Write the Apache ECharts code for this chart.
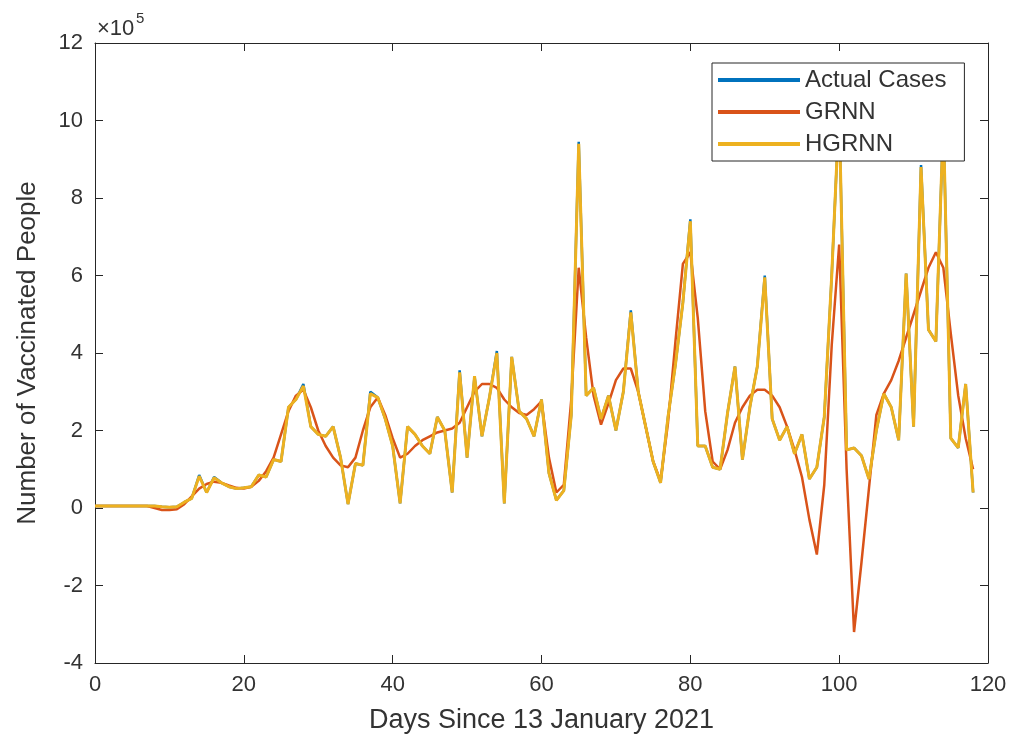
<!DOCTYPE html>
<html>
<head>
<meta charset="utf-8">
<script src="https://cdn.jsdelivr.net/npm/echarts@6/dist/echarts.min.js"></script>
<style>
  html, body { margin: 0; padding: 0; background: #ffffff; }
  #chart { width: 1010px; height: 743px; }
</style>
</head>
<body>
<div id="chart"></div>
<script>
// Daily vaccinations, in units of 10^5 people, day 0 = 13 January 2021
const actualCases = [
  0.05, 0.05, 0.05, 0.05, 0.05, 0.05, 0.05, 0.05, 0.05, 0.03,
  0.02, 0.03, 0.15, 0.25, 0.85, 0.4, 0.8, 0.65, 0.55, 0.5,
  0.52, 0.55, 0.85, 0.8, 1.25, 1.2, 2.6, 2.8, 3.2, 2.1,
  1.9, 1.85, 2.1, 1.3, 0.1, 1.15, 1.1, 3.0, 2.85, 2.3,
  1.6, 0.12, 2.1, 1.9, 1.6, 1.4, 2.35, 2.0, 0.4, 3.55,
  1.3, 3.4, 1.85, 2.85, 4.05, 0.12, 3.9, 2.5, 2.3, 1.85,
  2.8, 0.9, 0.2, 0.45, 2.4, 9.45, 2.9, 3.1, 2.3, 2.9,
  2.0, 3.0, 5.1, 3.0, 2.1, 1.2, 0.65, 2.35, 3.7, 5.3,
  7.45, 1.6, 1.6, 1.05, 1.0, 2.45, 3.65, 1.25, 2.6, 3.65,
  6.0, 2.3, 1.75, 2.1, 1.4, 1.9, 0.75, 1.05, 2.35, 6.0,
  10.3, 1.5, 1.55, 1.35, 0.75, 2.0, 2.95, 2.6, 1.75, 6.05,
  2.1, 8.85, 4.6, 4.3, 10.0, 1.8, 1.55, 3.2, 0.4
];

const grnn = [
  0.05, 0.05, 0.05, 0.05, 0.05, 0.05, 0.05, 0.05, 0.0, -0.05,
  -0.05, -0.03, 0.1, 0.3, 0.5, 0.62, 0.68, 0.65, 0.58, 0.52,
  0.5, 0.55, 0.7, 0.95, 1.3, 1.9, 2.5, 2.9, 3.05, 2.6,
  2.0, 1.6, 1.3, 1.1, 1.05, 1.3, 2.0, 2.6, 2.85, 2.4,
  1.8, 1.3, 1.4, 1.6, 1.75, 1.85, 1.95, 2.0, 2.05, 2.2,
  2.6, 3.0, 3.2, 3.2, 3.1, 2.8, 2.6, 2.45, 2.4, 2.55,
  2.75, 1.3, 0.4, 0.6, 2.8, 6.2, 4.4, 2.9, 2.15, 2.7,
  3.3, 3.6, 3.6, 3.0, 2.1, 1.2, 0.7, 2.2, 4.3, 6.3,
  6.6, 4.9, 2.5, 1.2, 1.0, 1.5, 2.2, 2.6, 2.9, 3.05,
  3.05, 2.9, 2.6, 2.1, 1.5, 0.8, -0.3, -1.2, 0.6, 4.2,
  6.8, 1.0, -3.2, -1.4, 0.5, 2.4, 2.95, 3.3, 3.8, 4.4,
  5.0, 5.6, 6.2, 6.6, 6.2, 4.5, 2.9, 1.8, 1.0
];

const hgrnn = [
  0.05, 0.05, 0.05, 0.05, 0.05, 0.05, 0.05, 0.05, 0.05, 0.03,
  0.02, 0.03, 0.15, 0.25, 0.82, 0.4, 0.78, 0.65, 0.55, 0.5,
  0.52, 0.55, 0.85, 0.8, 1.25, 1.2, 2.6, 2.8, 3.15, 2.1,
  1.9, 1.85, 2.1, 1.3, 0.1, 1.15, 1.1, 2.95, 2.85, 2.3,
  1.6, 0.12, 2.1, 1.9, 1.6, 1.4, 2.35, 2.0, 0.4, 3.5,
  1.3, 3.4, 1.85, 2.85, 4.0, 0.12, 3.9, 2.5, 2.3, 1.85,
  2.8, 0.9, 0.2, 0.45, 2.4, 9.4, 2.9, 3.1, 2.3, 2.9,
  2.0, 3.0, 5.05, 3.0, 2.1, 1.2, 0.65, 2.35, 3.7, 5.3,
  7.4, 1.6, 1.6, 1.05, 1.0, 2.45, 3.65, 1.25, 2.6, 3.65,
  5.95, 2.3, 1.75, 2.1, 1.4, 1.9, 0.75, 1.05, 2.35, 6.0,
  10.3, 1.5, 1.55, 1.35, 0.75, 2.0, 2.95, 2.6, 1.75, 6.05,
  2.1, 8.8, 4.6, 4.3, 10.0, 1.8, 1.55, 3.2, 0.4
];

const seriesNames = ['Actual Cases', 'GRNN', 'HGRNN'];
const xTicks = [0, 20, 40, 60, 80, 100, 120];
const yTicks = [-4, -2, 0, 2, 4, 6, 8, 10, 12];

const FONT = "'Liberation Sans', Arial, sans-serif";
const INK = '#333333';

// day index for each sample
const days = actualCases.map((_, i) => i);
const toPairs = vals => vals.map((v, i) => [days[i], v]);

const xMin = xTicks[0], xMax = xTicks[xTicks.length - 1], xStep = xTicks[1] - xTicks[0];
const yMin = yTicks[0], yMax = yTicks[yTicks.length - 1], yStep = yTicks[1] - yTicks[0];

const axisLine = { show: true, onZero: false, lineStyle: { color: '#262626', width: 1 } };
const axisTick = { show: true, inside: true, length: 8, lineStyle: { color: '#262626', width: 1 } };

const chart = echarts.init(document.getElementById('chart'), null, { renderer: 'canvas' });

chart.setOption({
  backgroundColor: '#ffffff',
  animation: false,
  grid: { left: 95, right: 22, top: 43, bottom: 80, containLabel: false },
  xAxis: [
    {
      type: 'value', position: 'bottom', min: xMin, max: xMax, interval: xStep,
      axisLine, axisTick,
      axisLabel: { fontSize: 22, color: INK, fontFamily: FONT, margin: 11 },
      splitLine: { show: false },
      name: 'Days Since 13 January 2021', nameLocation: 'middle', nameGap: 44,
      nameTextStyle: { fontSize: 27, color: INK, fontFamily: FONT }
    },
    {
      type: 'value', position: 'top', min: xMin, max: xMax, interval: xStep,
      axisLine, axisTick, axisLabel: { show: false }, splitLine: { show: false }
    }
  ],
  yAxis: [
    {
      type: 'value', position: 'left', min: yMin, max: yMax, interval: yStep,
      axisLine, axisTick,
      axisLabel: { fontSize: 22, color: INK, fontFamily: FONT, margin: 12 },
      splitLine: { show: false },
      name: 'Number of Vaccinated People', nameLocation: 'middle', nameGap: 54,
      nameTextStyle: { fontSize: 26, color: INK, fontFamily: FONT }
    },
    {
      type: 'value', position: 'right', min: yMin, max: yMax, interval: yStep,
      axisLine, axisTick, axisLabel: { show: false }, splitLine: { show: false }
    }
  ],
  legend: {
    orient: 'vertical', left: 712, top: 63,
    data: seriesNames,
    icon: 'rect', itemWidth: 82, itemHeight: 4, itemGap: 8,
    padding: [5, 18, 5, 6],
    backgroundColor: '#ffffff', borderColor: '#262626', borderWidth: 1,
    textStyle: { fontSize: 24, lineHeight: 23, color: INK, fontFamily: FONT }
  },
  graphic: [
    { type: 'text', left: 97, top: 18, z: 10,
      style: { text: '×10', fontSize: 22, fill: INK, fontFamily: FONT } },
    { type: 'text', left: 136, top: 11, z: 10,
      style: { text: '5', fontSize: 15, fill: INK, fontFamily: FONT } }
  ],
  series: [
    { name: seriesNames[0], type: 'line', data: toPairs(actualCases), showSymbol: false,
      lineStyle: { color: '#0072BD', width: 2.5 }, itemStyle: { color: '#0072BD' } },
    { name: seriesNames[1], type: 'line', data: toPairs(grnn), showSymbol: false,
      lineStyle: { color: '#D95319', width: 2.5 }, itemStyle: { color: '#D95319' } },
    { name: seriesNames[2], type: 'line', data: toPairs(hgrnn), showSymbol: false,
      lineStyle: { color: '#EDB120', width: 3 }, itemStyle: { color: '#EDB120' } }
  ]
});
</script>
</body>
</html>
